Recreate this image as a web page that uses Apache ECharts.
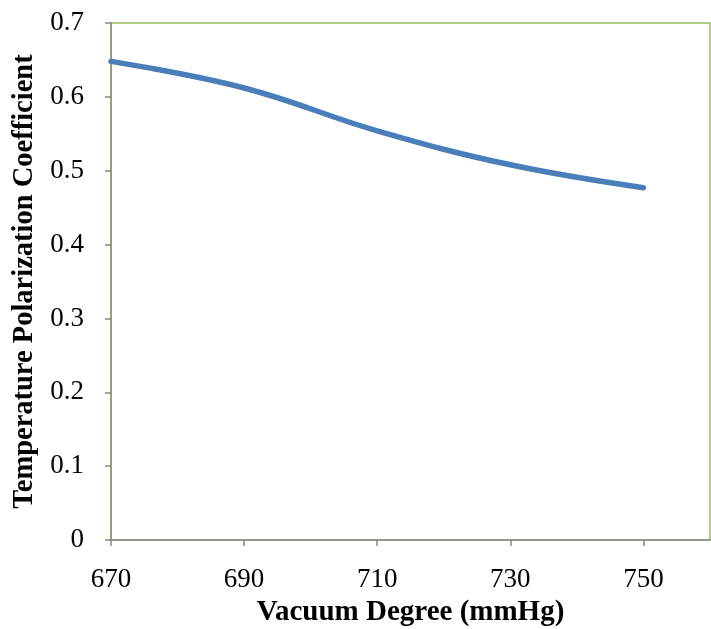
<!DOCTYPE html>
<html>
<head>
<meta charset="utf-8">
<style>
  html, body { margin: 0; padding: 0; background: #fff; }
  #chart { width: 711px; height: 629px; }
</style>
<script src="https://cdn.jsdelivr.net/npm/echarts@6/dist/echarts.min.js"></script>
</head>
<body>
<div id="chart"></div>
<script>
// Vacuum degree (mmHg) and the matching temperature polarization coefficient
const vacuumDegree = [670, 690, 710, 730, 750];
const tpcValues = [0.648, 0.612, 0.554, 0.508, 0.477];

const xTicks = [670, 690, 710, 730, 750];
const yTicks = [0, 0.1, 0.2, 0.3, 0.4, 0.5, 0.6, 0.7];

const serif = '"Liberation Serif", "Times New Roman", serif';

const chart = echarts.init(document.getElementById('chart'), null, { renderer: 'canvas' });

chart.setOption({
  animation: false,
  backgroundColor: '#ffffff',
  grid: {
    left: 111, top: 23, right: 1, bottom: 89,
    outerBoundsMode: 'none',
    containLabel: false,
    show: true,
    borderColor: '#9bbb59',
    borderWidth: 1.5,
    backgroundColor: 'transparent'
  },
  xAxis: {
    type: 'value',
    min: 670,
    max: 760,
    interval: 20,
    name: 'Vacuum Degree (mmHg)',
    nameLocation: 'middle',
    nameGap: 54,
    nameTextStyle: { fontFamily: serif, fontWeight: 'bold', fontSize: 29, color: '#000' },
    axisLine: { show: true, lineStyle: { color: '#868686', width: 1.5 } },
    axisTick: { show: true, inside: false, length: 6, lineStyle: { color: '#868686', width: 1.5 } },
    axisLabel: {
      fontFamily: serif, fontSize: 27, color: '#000', margin: 26,
      showMaxLabel: false,
      formatter: v => (xTicks.includes(v) ? String(v) : '')
    },
    splitLine: { show: false }
  },
  yAxis: {
    type: 'value',
    min: 0,
    max: 0.7,
    interval: 0.1,
    name: 'Temperature Polarization Coefficient',
    nameLocation: 'middle',
    nameGap: 67,
    nameTextStyle: { fontFamily: serif, fontWeight: 'bold', fontSize: 28.5, color: '#000' },
    axisLine: { show: true, lineStyle: { color: '#8a9177', width: 1.5 } },
    axisTick: { show: true, inside: false, length: 6, lineStyle: { color: '#868686', width: 1.5 } },
    axisLabel: {
      fontFamily: serif, fontSize: 27, color: '#000', margin: 27,
      formatter: v => {
        const t = yTicks.find(k => Math.abs(k - v) < 1e-9);
        return t === undefined ? '' : (t === 0 ? '0' : t.toFixed(1));
      }
    },
    splitLine: { show: false }
  },
  series: [{
    type: 'line',
    data: vacuumDegree.map((x, i) => [x, tpcValues[i]]),
    smooth: 0.4,
    showSymbol: false,
    lineStyle: { color: '#4a7ebb', width: 5.5, cap: 'round' },
    itemStyle: { color: '#4a7ebb' }
  }]
});
</script>
</body>
</html>
